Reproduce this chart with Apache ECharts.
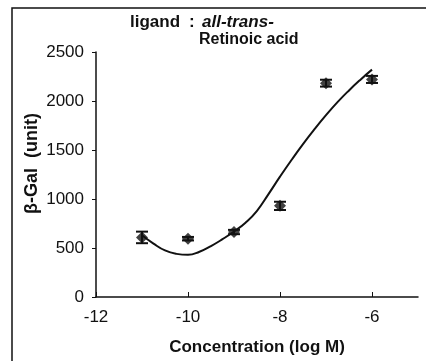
<!DOCTYPE html>
<html>
<head>
<meta charset="utf-8">
<script src="https://cdn.jsdelivr.net/npm/echarts@6/dist/echarts.min.js"></script>
<style>
  html, body { margin: 0; padding: 0; background: #fff; }
  #chart { width: 426px; height: 361px; }
</style>
</head>
<body>
<div id="chart"></div>
<script>
// measured points (log M, beta-Gal units) with error
const conc = [-11, -10, -9, -8, -7, -6];
const galValues = [608, 595, 663, 930, 2182, 2220];
const galErrors = [59, 18, 22, 42, 35, 36];

// fitted curve
const curveX = [-11, -10.75, -10.5, -10.25, -10, -9.75, -9.5, -9.25, -9, -8.75, -8.5,
  -8.25, -8, -7.75, -7.5, -7.25, -7, -6.75, -6.5, -6.25, -6];
const curveY = [630, 545, 475, 440, 430, 462, 520, 590, 668, 758, 880,
  1050, 1228, 1398, 1560, 1712, 1855, 1988, 2108, 2218, 2320];

const xTicks = [-12, -10, -8, -6];

const font = '"Liberation Sans", Arial, sans-serif';
const ink = '#111';

const chart = echarts.init(document.getElementById('chart'), null, { renderer: 'canvas' });

const option = {
  animation: false,
  backgroundColor: '#fff',
  grid: { left: 96, top: 52, right: 8, bottom: 64 },
  graphic: [
    {
      type: 'polyline',
      shape: { points: [[12, 361], [12, 8], [426, 8]] },
      style: { stroke: ink, lineWidth: 1.5, fill: null }
    },
    {
      type: 'text', x: 130, y: 22,
      style: { text: 'ligand', font: 'bold 17px ' + font, fill: ink, verticalAlign: 'middle' }
    },
    {
      type: 'text', x: 189, y: 22,
      style: { text: ':', font: 'bold 17px ' + font, fill: ink, verticalAlign: 'middle' }
    },
    {
      type: 'text', x: 202, y: 22,
      style: { text: 'all-trans-', font: 'italic bold 17px ' + font, fill: ink, verticalAlign: 'middle' }
    },
    {
      type: 'text', x: 199, y: 40,
      style: { text: 'Retinoic acid', font: 'bold 16px ' + font, fill: ink, verticalAlign: 'middle' }
    }
  ],
  xAxis: {
    type: 'value',
    min: -12, max: -5, interval: 2,
    name: 'Concentration (log M)',
    nameLocation: 'middle', nameGap: 42,
    nameTextStyle: { fontFamily: font, fontSize: 17, fontWeight: 'bold', color: ink },
    axisLine: { lineStyle: { color: ink, width: 1.5 } },
    axisTick: { inside: true, length: 5, customValues: xTicks, lineStyle: { color: ink } },
    axisLabel: { customValues: xTicks, fontFamily: font, fontSize: 17, color: ink, margin: 12 },
    splitLine: { show: false }
  },
  yAxis: {
    type: 'value',
    min: 0, max: 2500, interval: 500,
    name: 'β-Gal  (unit)',
    nameLocation: 'middle', nameGap: 55,
    nameMoveOverlap: false,
    nameTextStyle: { fontFamily: font, fontSize: 18, fontWeight: 'bold', color: ink, padding: [0, 0, 0, 22] },
    axisLine: { show: true, lineStyle: { color: ink, width: 1.5 } },
    axisTick: { show: true, length: 4, lineStyle: { color: ink } },
    axisLabel: { fontFamily: font, fontSize: 17, color: ink, margin: 12, formatter: v => String(v) },
    splitLine: { show: false }
  },
  series: [
    {
      type: 'line',
      data: curveX.map((x, i) => [x, curveY[i]]),
      smooth: true,
      showSymbol: false,
      lineStyle: { color: ink, width: 2 },
      z: 2
    },
    {
      type: 'custom',
      data: conc.map((x, i) => [x, galValues[i] - galErrors[i], galValues[i] + galErrors[i]]),
      renderItem: function (params, api) {
        const lo = api.coord([api.value(0), api.value(1)]);
        const hi = api.coord([api.value(0), api.value(2)]);
        const w = 6;
        const st = { stroke: ink, lineWidth: 2 };
        return {
          type: 'group',
          children: [
            { type: 'line', shape: { x1: lo[0], y1: lo[1], x2: hi[0], y2: hi[1] }, style: st },
            { type: 'line', shape: { x1: lo[0] - w, y1: lo[1], x2: lo[0] + w, y2: lo[1] }, style: st },
            { type: 'line', shape: { x1: hi[0] - w, y1: hi[1], x2: hi[0] + w, y2: hi[1] }, style: st }
          ]
        };
      },
      z: 3
    },
    {
      type: 'scatter',
      data: conc.map((x, i) => [x, galValues[i]]),
      symbol: 'diamond',
      symbolSize: 12,
      itemStyle: { color: ink },
      z: 4
    }
  ]
};

chart.setOption(option);
</script>
</body>
</html>
